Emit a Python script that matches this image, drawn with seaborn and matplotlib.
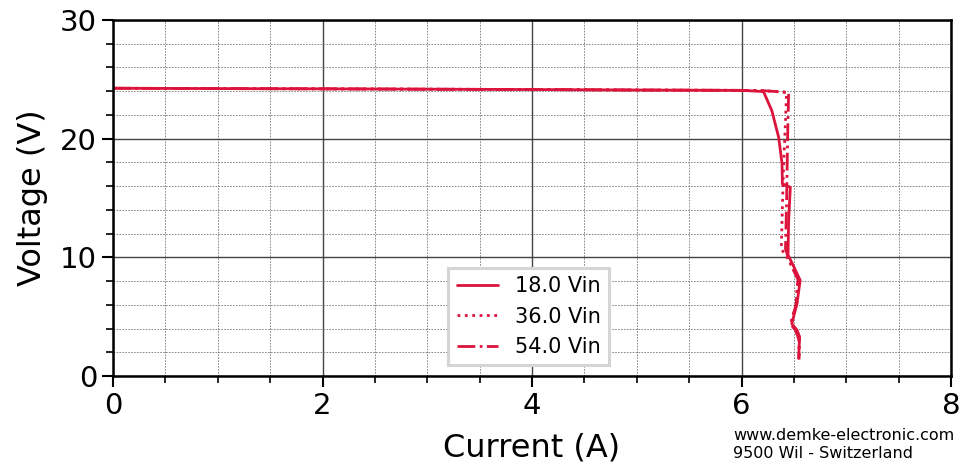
import matplotlib as mpl
mpl.use('Agg')
import matplotlib.pyplot as plt
from matplotlib.ticker import MultipleLocator
import seaborn as sns
import pandas as pd

# current (A) / voltage (V)
i_18 = [0, 1, 2, 3, 4, 5, 6, 6.21, 6.29, 6.355, 6.387, 6.39, 6.466, 6.45, 6.444, 6.50, 6.56, 6.53, 6.48, 6.53, 6.555, 6.545]
v_18 = [24.25, 24.22, 24.2, 24.17, 24.14, 24.1, 24.07, 23.97, 22.35, 20.1, 17.9, 16.2, 15.9, 13.1, 10.2, 9.2, 8.07, 6.1, 4.4, 3.87, 3.3, 1.49]

i_36 = [0, 1, 2, 3, 4, 5, 6, 6.2, 6.43, 6.42, 6.40, 6.387, 6.38, 6.42, 6.48, 6.54, 6.52, 6.47, 6.52, 6.55, 6.55]
v_36 = [24.25, 24.22, 24.2, 24.17, 24.14, 24.1, 24.07, 24.05, 23.9, 21.5, 17.3, 13.1, 10.7, 10.2, 9.3, 8.2, 6.0, 4.4, 3.8, 3.0, 1.4]

i_54 = [0, 1, 2, 3, 4, 5, 6, 6.2, 6.45, 6.44, 6.43, 6.42, 6.47, 6.54, 6.52, 6.47, 6.52, 6.55, 6.55]
v_54 = [24.25, 24.22, 24.2, 24.17, 24.14, 24.1, 24.07, 24.05, 23.9, 20.0, 14.5, 10.7, 9.4, 8.1, 6.0, 4.4, 3.8, 3.0, 1.4]

labels = ['18.0 Vin', '36.0 Vin', '54.0 Vin']
styles = ['-', ':', '-.']

sns.set_style("ticks")
plt.rcParams['font.family'] = ['DejaVu Sans']
for k in ['text.color', 'axes.labelcolor', 'xtick.color', 'ytick.color']:
    plt.rcParams[k] = 'black'

fig = plt.figure(figsize=(9.63, 4.67), dpi=100)
ax = fig.add_axes([113/963, 1-376/467, 838/963, 356/467])

red = '#dc143c'
for xs, ys, lab, ls in zip([i_18, i_36, i_54], [v_18, v_36, v_54], labels, styles):
    df = pd.DataFrame({'I': xs, 'V': ys})
    sns.lineplot(data=df, x='I', y='V', sort=False, estimator=None, color=red,
                 linestyle=ls, linewidth=2, label=lab, ax=ax)

ax.set_xlim(0, 8)
ax.set_ylim(0, 30)
ax.xaxis.set_major_locator(MultipleLocator(2))
ax.xaxis.set_minor_locator(MultipleLocator(0.5))
ax.yaxis.set_major_locator(MultipleLocator(10))
ax.yaxis.set_minor_locator(MultipleLocator(2))
ax.grid(True, which='major', color='#444444', linewidth=1, linestyle='-')
ax.grid(True, which='minor', color='#777777', linewidth=0.6, linestyle=(0, (2, 1.5)))
ax.set_axisbelow(True)
ax.tick_params(which='major', labelsize=21, length=8, width=1.5, direction='out')
ax.tick_params(which='minor', length=5, width=1.2, direction='out')
for s in ax.spines.values():
    s.set_linewidth(1.8)
    s.set_color('black')

ax.set_xlabel('Current (A)', fontsize=23, labelpad=9)
ax.set_ylabel('Voltage (V)', fontsize=23, labelpad=9)

leg = ax.legend(loc='lower left', bbox_to_anchor=(0.4, 0.03), fontsize=15,
                fancybox=False, framealpha=1, handlelength=2.0, borderaxespad=0)
leg.get_frame().set_edgecolor('#d5d5d5')
leg.get_frame().set_linewidth(2.2)

fig.text(733/963, 1-436/467, 'www.demke-electronic.com', fontsize=11.5, va='center')
fig.text(733/963, 1-453/467, '9500 Wil - Switzerland', fontsize=11.5, va='center')

fig.savefig('out.png', dpi=100)
